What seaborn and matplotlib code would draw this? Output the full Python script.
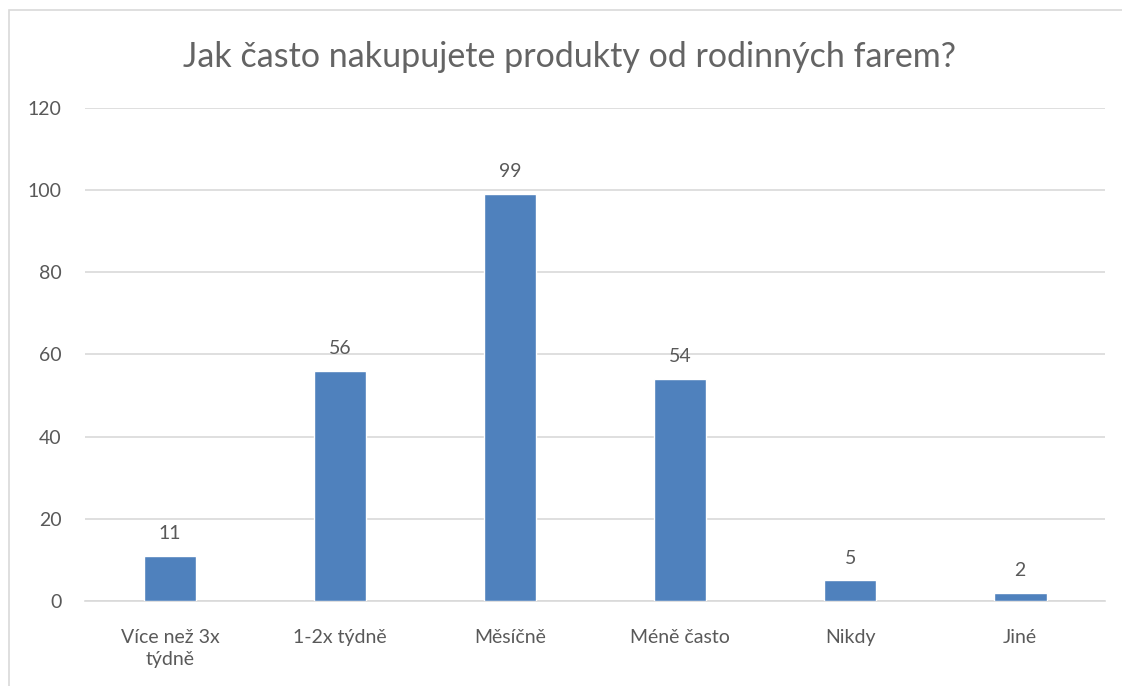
import matplotlib
matplotlib.use("Agg")
import matplotlib.pyplot as plt
import pandas as pd
import seaborn as sns
from matplotlib.patches import Rectangle

categories = ["Více než 3x\ntýdně", "1-2x týdně", "Měsíčně", "Méně často", "Nikdy", "Jiné"]
counts = [11, 56, 99, 54, 5, 2]
y_ticks = [0, 20, 40, 60, 80, 100, 120]
title = "Jak často nakupujete produkty od rodinných farem?"

df = pd.DataFrame({"kategorie": categories, "pocet": counts})

sns.set_theme(style="white")
plt.rcParams["font.family"] = ["Lato", "DejaVu Sans"]

text_col = "#595959"
grid_col = "#D9D9D9"

fig = plt.figure(figsize=(11.22, 6.86), dpi=100)
ax = fig.add_axes([0.0758, 0.1239, 0.9092, 0.7187])

sns.barplot(data=df, x="kategorie", y="pocet", color="#4F81BD", width=0.31,
            saturation=1, ax=ax, zorder=3)

ax.set_ylim(0, 120)
ax.set_yticks(y_ticks)
ax.set_xlim(-0.5, len(categories) - 0.5)
ax.yaxis.grid(True, color=grid_col, linewidth=1.2, zorder=0)
ax.set_axisbelow(True)
for side in ["left", "right", "top"]:
    ax.spines[side].set_visible(False)
ax.spines["bottom"].set_color(grid_col)
ax.spines["bottom"].set_linewidth(1.2)
ax.tick_params(axis="both", length=0, labelsize=14, colors=text_col)
ax.tick_params(axis="y", pad=17)
ax.tick_params(axis="x", pad=20)
for lbl in ax.get_xticklabels():
    lbl.set_linespacing(1.35)
ax.set_xlabel("")
ax.set_ylabel("")

for container in ax.containers:
    ax.bar_label(container, padding=10, fontsize=14, color=text_col)

fig.text(0.508, 0.917, title, ha="center", va="center", fontsize=24.5,
         color="#646464")

# chart frame like in Excel
fig.patches.append(Rectangle((9 / 1122, -0.1), 1.2, 1 - 10 / 686 + 0.1,
                             transform=fig.transFigure, fill=False,
                             edgecolor=grid_col, linewidth=1.2))

fig.savefig("out.png", dpi=100)
plt.close(fig)
